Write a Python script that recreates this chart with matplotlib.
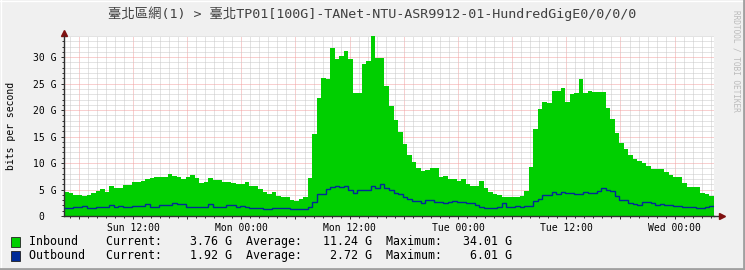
import numpy as np
import matplotlib.pyplot as plt
from matplotlib.ticker import MultipleLocator, FixedLocator, FixedFormatter
from matplotlib.patches import Rectangle

plt.rcParams['font.family'] = ['DejaVu Sans Mono', 'Noto Sans CJK TC']

title = '臺北區網(1) > 臺北TP01[100G]-TANet-NTU-ASR9912-01-HundredGigE0/0/0/0'

# hours since Sun 00:00, one sample every 30 min
t_start = 4.36
t_step = 0.5

# Gbit/s
inbound = [4.6, 4.4, 4.0, 4.0, 3.85, 4.0, 4.3, 4.65, 5.1, 4.6,
           5.7, 5.2, 5.35, 5.9, 5.9, 6.4, 6.4, 6.6, 7.0, 7.1,
           7.3, 7.3, 7.3, 7.9, 7.6, 7.4, 7.0, 7.4, 7.7, 7.1,
           6.3, 6.5, 7.1, 6.8, 6.8, 6.5, 6.5, 6.2, 6.0, 6.0,
           6.4, 5.7, 5.7, 5.1, 4.6, 4.1, 4.5, 3.8, 3.5, 3.5,
           3.0, 2.8, 3.2, 3.6, 7.2, 15.5, 22.3, 26.0, 25.8, 31.8,
           29.6, 30.2, 31.1, 29.7, 23.3, 23.3, 28.7, 29.2, 34.01, 29.9,
           29.9, 24.5, 20.8, 18.1, 15.8, 13.6, 11.5, 10.2, 9.0, 8.5,
           8.7, 9.0, 9.0, 7.4, 7.5, 7.0, 7.0, 6.7, 7.0, 6.0,
           5.7, 5.7, 6.7, 5.35, 4.6, 4.15, 4.0, 3.5, 3.5, 3.5,
           3.6, 3.8, 4.7, 9.3, 16.4, 20.2, 21.5, 21.3, 23.6, 23.6,
           24.1, 21.6, 23.0, 23.3, 25.8, 23.3, 23.7, 23.5, 23.5, 23.5,
           20.4, 18.4, 15.6, 13.8, 12.6, 11.5, 10.75, 10.4, 10.1, 9.5,
           8.9, 8.9, 8.9, 8.4, 7.7, 7.3, 7.4, 6.3, 5.5, 5.4,
           5.4, 4.3, 4.1, 3.76]

outbound = [1.45, 1.45, 1.65, 1.65, 1.9, 1.45, 1.45, 1.75, 1.75, 1.75,
            2.0, 1.75, 1.9, 1.75, 1.75, 1.9, 1.9, 1.9, 2.2, 1.75,
            1.75, 2.0, 2.0, 2.0, 2.4, 2.3, 2.2, 1.75, 1.75, 1.65,
            1.75, 1.65, 2.2, 1.65, 1.75, 1.65, 2.0, 2.0, 1.75, 1.9,
            1.75, 1.45, 1.55, 1.45, 1.25, 1.25, 1.45, 1.45, 1.45, 1.45,
            1.35, 1.25, 1.25, 1.25, 1.75, 2.6, 4.1, 4.1, 5.15, 5.4,
            5.6, 5.5, 5.6, 4.85, 4.3, 5.0, 5.0, 5.0, 5.6, 5.2,
            6.01, 5.2, 4.85, 4.4, 4.1, 3.5, 3.15, 2.8, 2.8, 2.4,
            3.0, 3.0, 2.7, 2.7, 2.4, 2.6, 2.8, 2.65, 2.65, 2.4,
            2.4, 2.1, 1.75, 1.45, 1.6, 1.6, 1.75, 2.4, 1.75, 1.7,
            1.85, 1.7, 1.9, 1.9, 2.9, 3.3, 3.9, 3.9, 4.5, 4.1,
            4.5, 4.3, 4.3, 4.1, 4.1, 4.6, 4.3, 4.3, 4.8, 5.2,
            4.9, 4.8, 3.8, 3.0, 3.0, 2.4, 2.2, 2.0, 2.6, 2.6,
            2.4, 2.1, 2.25, 2.0, 2.0, 1.8, 1.8, 1.65, 1.65, 1.65,
            1.45, 1.45, 1.65, 1.92]

tick_hours = [12, 24, 36, 48, 60, 72]
tick_labels = ['Sun 12:00', 'Mon 00:00', 'Mon 12:00', 'Tue 00:00', 'Tue 12:00', 'Wed 00:00']
ytick_vals = [0, 5, 10, 15, 20, 25, 30]
ytick_labels = ['0\u00a0\u00a0', '5 G', '10 G', '15 G', '20 G', '25 G', '30 G']

series_names = ['Inbound', 'Outbound']
current = [3.76, 1.92]
average = [11.24, 2.72]
maximum = [34.01, 6.01]

green = '#00CF00'
blue = '#002A97'

W, H = 745, 270
fig = plt.figure(figsize=(W / 100, H / 100), dpi=100, facecolor='#F0F0F0')
ax = fig.add_axes([64 / W, 54 / H, 650 / W, 180 / H])
ax.set_facecolor('white')

edges = t_start + t_step * np.arange(len(inbound) + 1)
ax.stairs(inbound, edges, fill=True, color=green, linewidth=0, zorder=2)
ax.stairs(outbound, edges, baseline=None, color=blue, linewidth=1.0, zorder=3)

ax.set_xlim(t_start, t_start + 72)
ax.set_ylim(0, 34.0)

# grid: hourly / 1G minor, 6h / 5G major
major_hours = list(range(6, 77, 6))
major_lbls = [tick_labels[tick_hours.index(h)] if h in tick_hours else '' for h in major_hours]
ax.xaxis.set_major_locator(FixedLocator(major_hours))
ax.xaxis.set_major_formatter(FixedFormatter(major_lbls))
ax.xaxis.set_minor_locator(MultipleLocator(1))
ax.yaxis.set_major_locator(FixedLocator(ytick_vals))
ax.yaxis.set_major_formatter(FixedFormatter(ytick_labels))
ax.yaxis.set_minor_locator(MultipleLocator(1))

ax.grid(which='minor', color='#C8C8C8', linewidth=0.72, linestyle=(0, (1, 1)))
ax.grid(which='major', color='#F3A0A0', linewidth=0.72, linestyle=(0, (1, 1)))
ax.set_axisbelow(True)

for s in ['top', 'right']:
    ax.spines[s].set_visible(False)
for s in ['left', 'bottom']:
    ax.spines[s].set_color('#303030')
    ax.spines[s].set_linewidth(1.0)

ax.tick_params(which='both', colors='#303030', labelcolor='black', labelsize=7, width=0.72)
ax.tick_params(axis='x', which='major', direction='out', length=2, pad=3)
ax.tick_params(axis='x', which='minor', direction='out', length=1.5)
ax.tick_params(axis='y', which='major', direction='out', length=2, pad=3.5)
ax.tick_params(axis='y', which='minor', direction='out', length=1.2)

# axis arrows
ax.plot([1.0, 1.012], [0, 0], color='#303030', lw=1.0, transform=ax.transAxes, clip_on=False)
ax.plot([1.012], [0], marker='>', color='#7F1010', markersize=4, transform=ax.transAxes, clip_on=False)
ax.plot([0], [1.018], marker='^', color='#7F1010', markersize=4, transform=ax.transAxes, clip_on=False)

fig.text(0.5, 1 - 14 / H, title, ha='center', va='center', fontsize=9.6, color='#404040')
fig.text(11 / W, 1 - 126 / H, 'bits per second', rotation=90, ha='center', va='center',
         fontsize=7, color='black')
fig.text(736 / W, 1 - 10 / H, 'RRDTOOL / TOBI OETIKER', rotation=270, ha='center', va='top',
         fontsize=5.6, color='#BBBBBB')

# legend
for k, (name, col) in enumerate(zip(series_names, [green, blue])):
    yc = 242 + k * 14
    fig.patches.append(Rectangle((11 / W, 1 - (yc + 5) / H), 9 / W, 10 / H,
                                 transform=fig.transFigure, facecolor=col,
                                 edgecolor='#202020', linewidth=0.6))
    line = f'{name:<11}Current:{current[k]:8.2f} G  Average:{average[k]:8.2f} G  Maximum:{maximum[k]:8.2f} G'
    fig.text(29 / W, 1 - yc / H, line, ha='left', va='center', fontsize=8.4, color='black')

# 3d frame
fig.add_artist(plt.Line2D([0, 1], [1 - 0.5 / H, 1 - 0.5 / H], color='#FFFFFF', lw=1, transform=fig.transFigure))
fig.add_artist(plt.Line2D([0.5 / W, 0.5 / W], [0, 1], color='#FFFFFF', lw=1, transform=fig.transFigure))
fig.add_artist(plt.Line2D([0, 1], [1.5 / H, 1.5 / H], color='#A0A0A0', lw=2, transform=fig.transFigure))
fig.add_artist(plt.Line2D([1 - 1.5 / W, 1 - 1.5 / W], [0, 1], color='#A0A0A0', lw=2, transform=fig.transFigure))

fig.savefig('out.png', dpi=100, facecolor=fig.get_facecolor())
